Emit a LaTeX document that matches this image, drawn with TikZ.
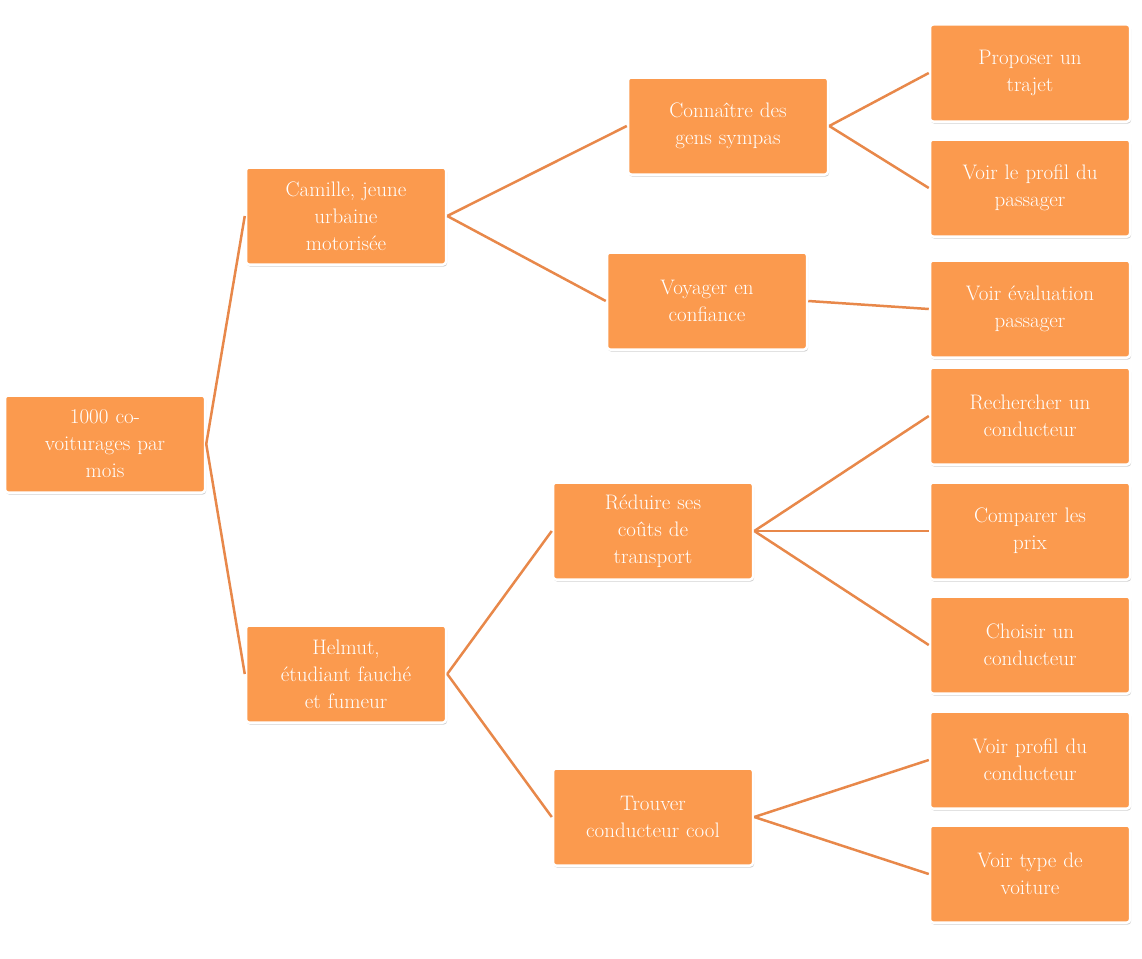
\documentclass[tikz,border=0pt]{standalone}
\usetikzlibrary{shadows}
\definecolor{boxor}{HTML}{FB9A4E}
\definecolor{lineor}{HTML}{E8884A}
\tikzset{
 box/.style={draw=white,line width=2.5pt,fill=boxor,rounded corners=3pt,minimum width=200pt,minimum height=97pt,text width=192pt,align=center,text=white,font=\fontsize{21}{27}\selectfont,inner sep=2pt,drop shadow={shadow xshift=1pt,shadow yshift=-2pt,opacity=0.35}},
 link/.style={draw=lineor,line width=2.5pt}
}
\begin{document}
\begin{tikzpicture}[x=1pt,y=-1pt]
\useasboundingbox (0,0) rectangle (1142,958);
\node[box] (r) at (105,444) {1000 co-\\voiturages par\\mois};
\node[box] (c) at (346,216) {Camille, jeune\\urbaine\\motoris\'ee};
\node[box] (h) at (346,674) {Helmut,\\\'etudiant fauch\'e\\et fumeur};
\node[box] (k) at (728,126) {Conna\^itre des\\gens sympas};
\node[box] (v) at (707,301) {Voyager en\\confiance};
\node[box] (d) at (653,531) {R\'eduire ses\\co\^uts de\\transport};
\node[box] (t) at (653,817) {Trouver\\conducteur cool};
\node[box] (l1) at (1030,73) {Proposer un\\trajet};
\node[box] (l2) at (1030,188) {Voir le profil du\\passager};
\node[box] (l3) at (1030,309) {Voir \'evaluation\\passager};
\node[box] (l4) at (1030,416) {Rechercher un\\conducteur};
\node[box] (l5) at (1030,531) {Comparer les\\prix};
\node[box] (l6) at (1030,645) {Choisir un\\conducteur};
\node[box] (l7) at (1030,760) {Voir profil du\\conducteur};
\node[box] (l8) at (1030,874) {Voir type de\\voiture};
\begin{scope}[on background layer/.style={}]
\end{scope}
\foreach \a/\b in {r/c,r/h,c/k,c/v,h/d,h/t,k/l1,k/l2,v/l3,d/l4,d/l5,d/l6,t/l7,t/l8}
 \draw[link] (\a.east) -- (\b.west);
\end{tikzpicture}
\end{document}
